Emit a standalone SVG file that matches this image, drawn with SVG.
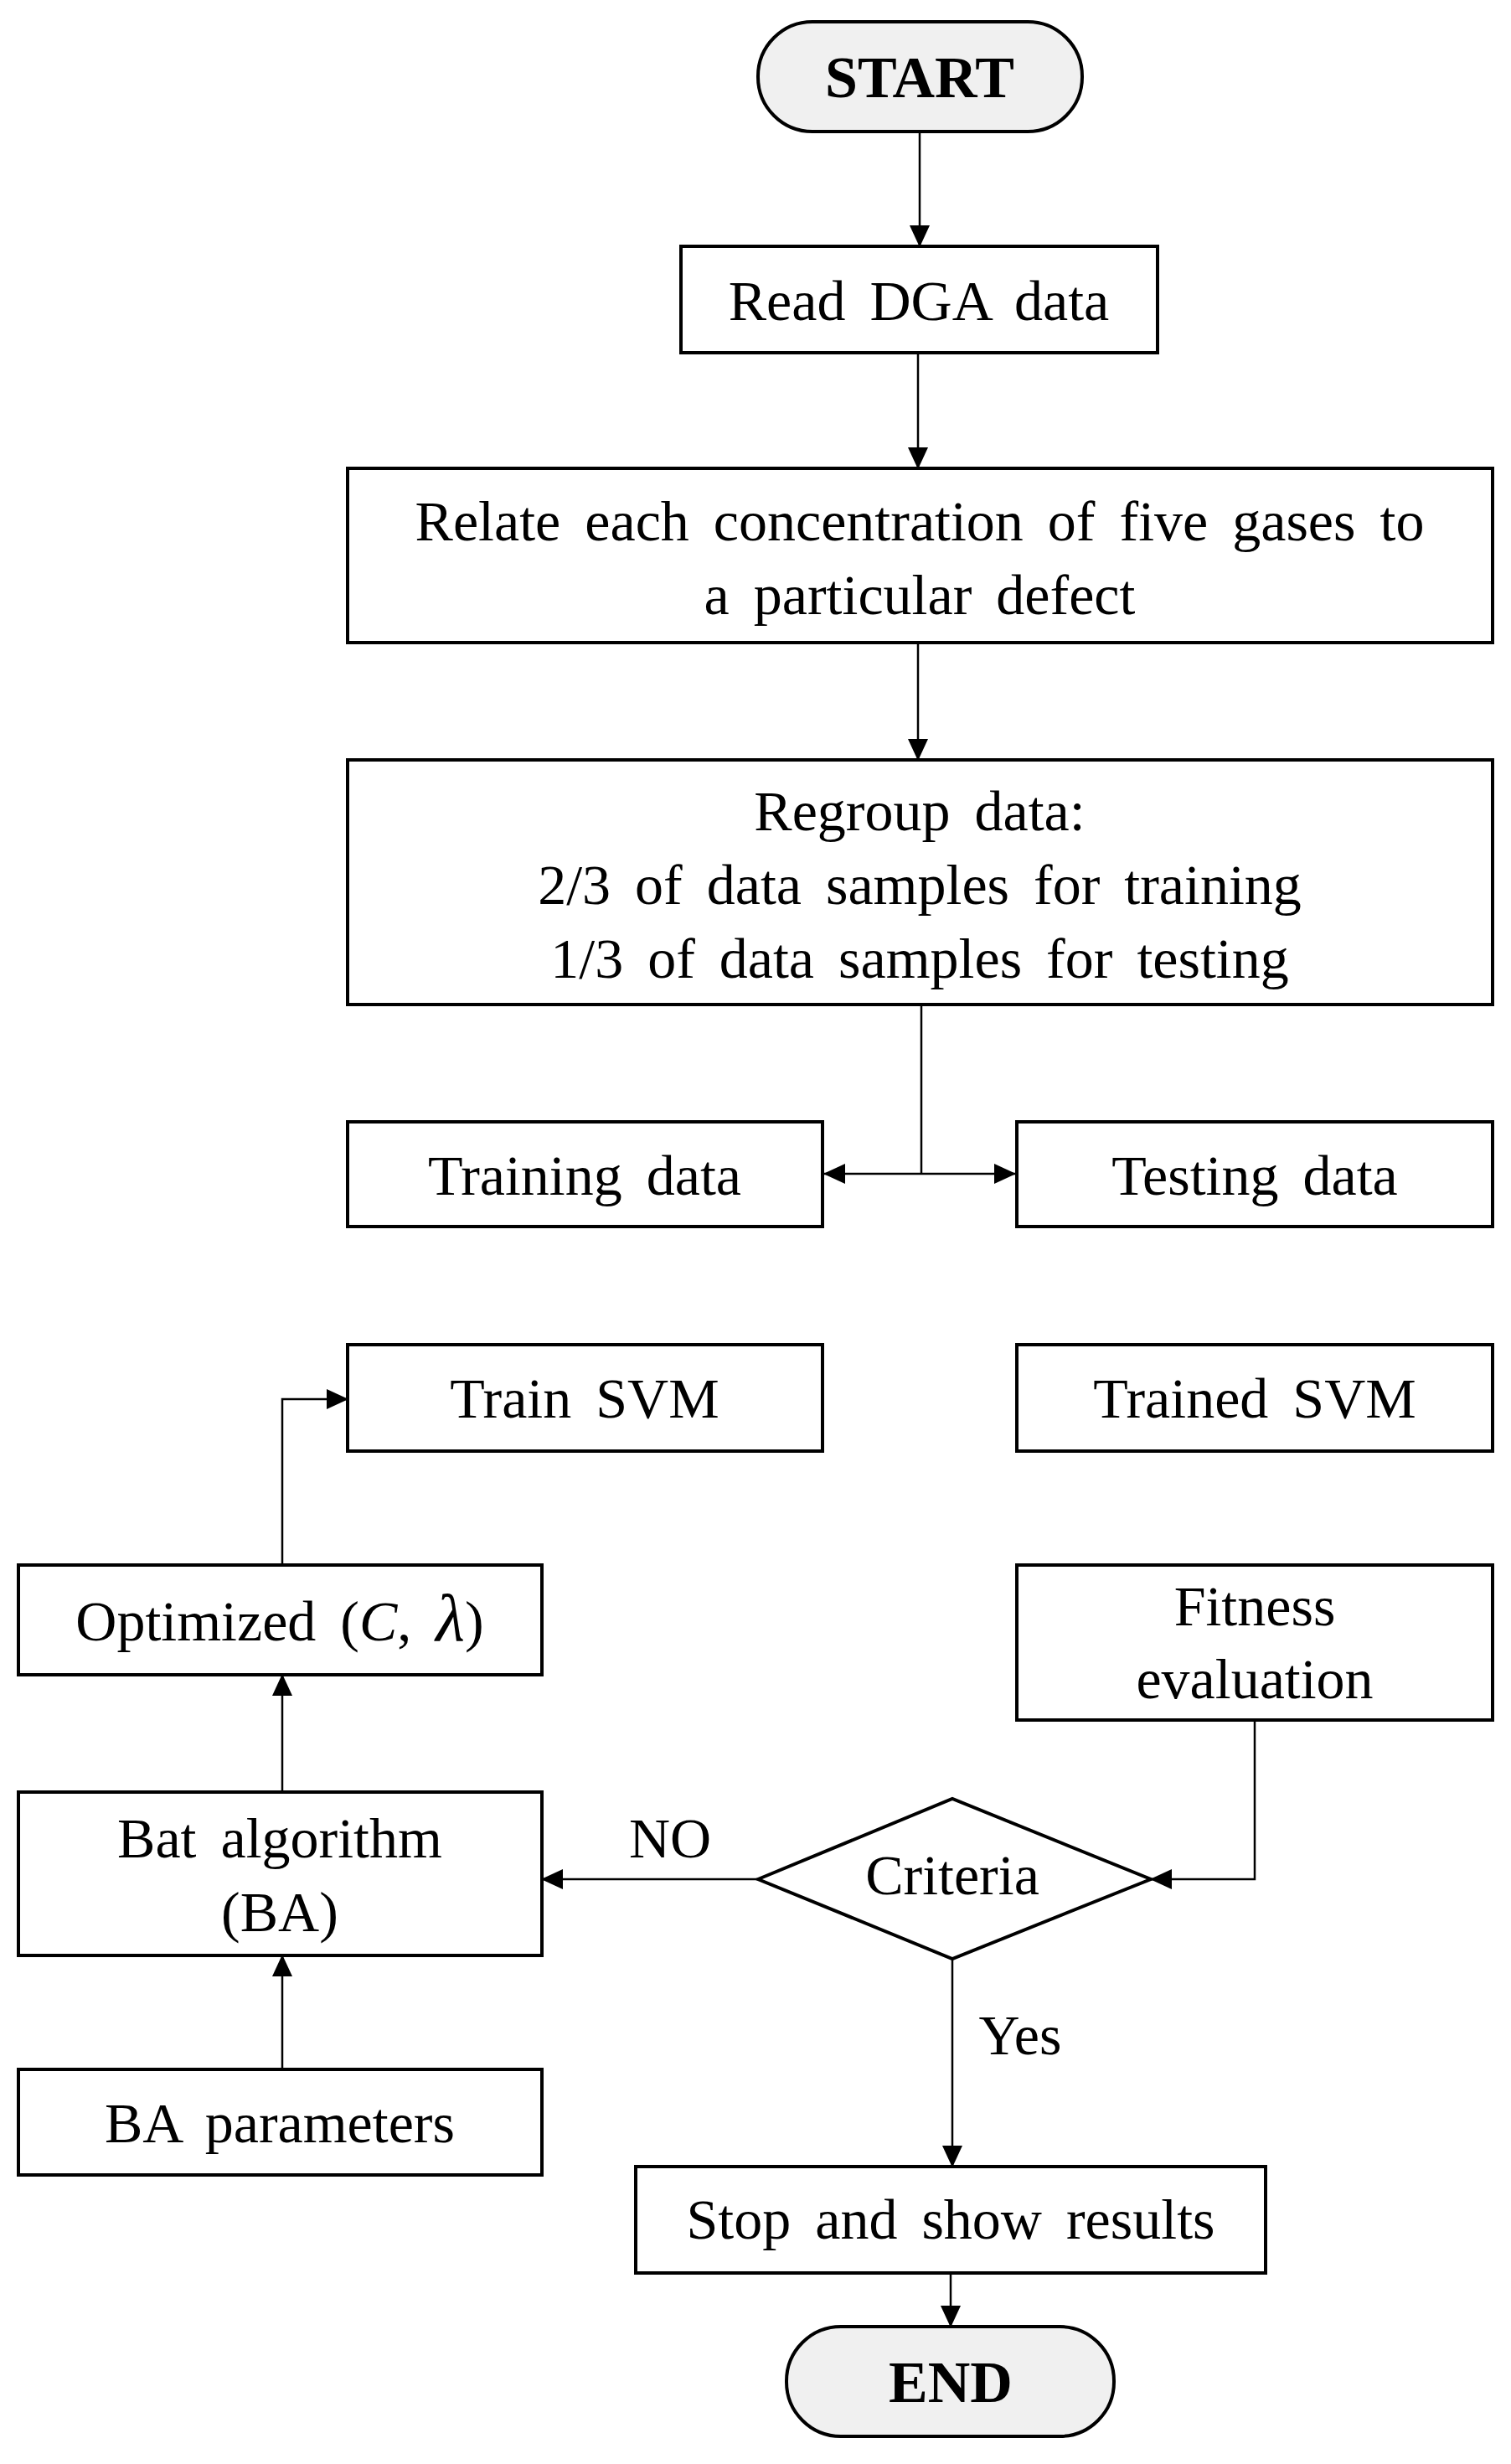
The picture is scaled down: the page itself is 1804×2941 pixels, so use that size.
<svg xmlns="http://www.w3.org/2000/svg" width="1804" height="2941" viewBox="0 0 1804 2941">
<style>
.b{fill:#fff;stroke:#000;stroke-width:4}
.t{fill:#f0f0f0;stroke:#000;stroke-width:4}
text{font-family:"Liberation Serif","Times New Roman",serif;font-size:68px;word-spacing:12px;text-anchor:middle;fill:#000}
.bold{font-weight:bold;font-size:70px;word-spacing:0}
.c{fill:none;stroke:#000;stroke-width:2.5}
</style>
<defs><marker id="a" markerWidth="26" markerHeight="24" refX="25" refY="12" orient="auto" markerUnits="userSpaceOnUse" viewBox="0 0 26 24"><path d="M0,0L26,12L0,24z"/></marker></defs>
<rect width="1804" height="2941" fill="#fff"/>
<g id="start"><rect class="t" x="905" y="26" width="387" height="131" rx="65"/><text class="bold" x="1098" y="116">START</text></g>
<g id="read"><rect class="b" x="813" y="294" width="569" height="127"/><text x="1097" y="382">Read DGA data</text></g>
<g id="relate"><rect class="b" x="415" y="559" width="1367" height="208"/><text x="1098" y="645">Relate each concentration of five gases to</text><text x="1098" y="733">a particular defect</text></g>
<g id="regroup"><rect class="b" x="415" y="907" width="1367" height="292"/><text x="1098" y="991">Regroup data:</text><text x="1098" y="1079">2/3 of data samples for training</text><text x="1098" y="1167">1/3 of data samples for testing</text></g>
<g id="training"><rect class="b" x="415" y="1339" width="567" height="125"/><text x="698" y="1426">Training data</text></g>
<g id="testing"><rect class="b" x="1214" y="1339" width="568" height="125"/><text x="1498" y="1426">Testing data</text></g>
<g id="trainsvm"><rect class="b" x="415" y="1605" width="567" height="127"/><text x="698" y="1692">Train SVM</text></g>
<g id="trainedsvm"><rect class="b" x="1214" y="1605" width="568" height="127"/><text x="1498" y="1692">Trained SVM</text></g>
<g id="optimized"><rect class="b" x="22" y="1868" width="625" height="131"/><text x="334" y="1958" word-spacing="4">Optimized (<tspan font-style="italic">C</tspan>, <tspan font-style="italic" font-size="80">λ</tspan>)</text></g>
<g id="fitness"><rect class="b" x="1214" y="1868" width="568" height="185"/><text x="1498" y="1940">Fitness</text><text x="1498" y="2027">evaluation</text></g>
<g id="bat"><rect class="b" x="22" y="2139" width="625" height="195"/><text x="334" y="2217">Bat algorithm</text><text x="334" y="2305">(BA)</text></g>
<g id="baparams"><rect class="b" x="22" y="2470" width="625" height="126"/><text x="334" y="2557" word-spacing="2">BA parameters</text></g>
<g id="criteria"><polygon class="b" points="905,2243 1137,2147 1374,2243 1137,2338"/><text x="1137" y="2261" font-size="54">Criteria</text></g>
<g id="stop"><rect class="b" x="759" y="2586" width="752" height="127"/><text x="1135" y="2672">Stop and show results</text></g>
<g id="end"><rect class="t" x="939" y="2777" width="391" height="131" rx="65"/><text class="bold" x="1135" y="2867">END</text></g>
<g id="connectors">
<line class="c" x1="1098" y1="157" x2="1098" y2="294" marker-end="url(#a)"/>
<line class="c" x1="1096" y1="421" x2="1096" y2="559" marker-end="url(#a)"/>
<line class="c" x1="1096" y1="767" x2="1096" y2="907" marker-end="url(#a)"/>
<line class="c" x1="1100" y1="1199" x2="1100" y2="1401"/>
<line class="c" x1="1100" y1="1401" x2="984" y2="1401" marker-end="url(#a)"/>
<line class="c" x1="1100" y1="1401" x2="1212" y2="1401" marker-end="url(#a)"/>
<polyline class="c" points="337,1868 337,1670 415,1670" marker-end="url(#a)"/>
<line class="c" x1="337" y1="2139" x2="337" y2="1999" marker-end="url(#a)"/>
<line class="c" x1="337" y1="2470" x2="337" y2="2334" marker-end="url(#a)"/>
<line class="c" x1="905" y1="2243" x2="647" y2="2243" marker-end="url(#a)"/>
<polyline class="c" points="1498,2053 1498,2243 1374,2243" marker-end="url(#a)"/>
<line class="c" x1="1137" y1="2338" x2="1137" y2="2586" marker-end="url(#a)"/>
<line class="c" x1="1135" y1="2713" x2="1135" y2="2777" marker-end="url(#a)"/>
<text x="800" y="2217">NO</text>
<text x="1218" y="2452">Yes</text>
</g>
</svg>
